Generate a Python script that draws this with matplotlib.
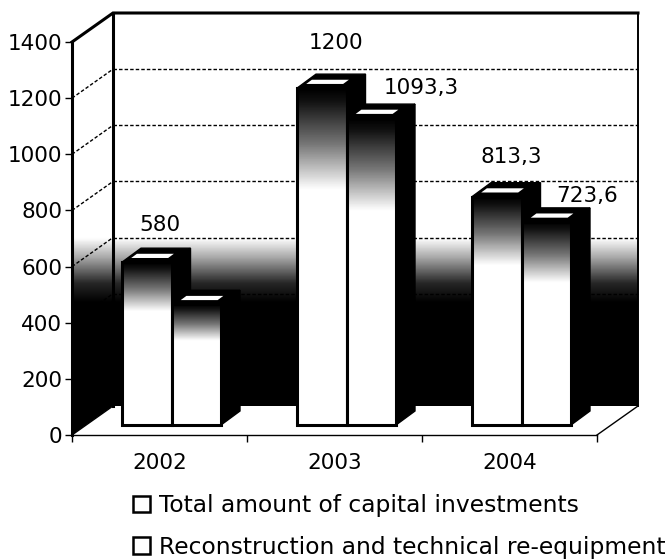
import numpy as np
import matplotlib
matplotlib.use('Agg')
import matplotlib.pyplot as plt
from matplotlib.colors import LinearSegmentedColormap
from matplotlib.patches import Polygon, Rectangle

years = ['2002', '2003', '2004']
total_invest = [580, 1200, 813.3]
reconstruction = [430, 1093.3, 723.6]
total_labels = ['580', '1200', '813,3']
recon_labels = ['', '1093,3', '723,6']
series_names = ['Total amount of capital investments',
                'Reconstruction and technical re-equipment']
y_ticks = [0, 200, 400, 600, 800, 1000, 1200, 1400]

W, H = 671, 560
FS = 15.5

plt.rcParams['font.family'] = ['DejaVu Sans']
fig = plt.figure(figsize=(W / 100, H / 100), dpi=100)
ax = fig.add_axes([72 / W, (H - 435) / H, 525 / W, 393 / H])
ax.set_xlim(-0.5, 2.5)
ax.set_ylim(0, 1400)

# pixel sizes -> data units
px_x = 3 / 525
px_y = 1400 / 393
wall_dx, wall_dy = 41 * px_x, 29 * px_y
base_dx, base_dy = 12 * px_x, 10 * px_y
depth_dx, depth_dy = 19 * px_x, 14 * px_y
bar_w = 49.5 * px_x

wall_cmap = LinearSegmentedColormap.from_list('wall', [(0, 'black'), (0.3, '#262626'), (0.7, '#a8a8a8'), (1, 'white')])
bar_cmap = LinearSegmentedColormap.from_list('bar', [(0, 'black'), (0.12, '#111111'), (0.55, '#777777'), (1, 'white')])

# walls
x0, x1 = -0.5, 2.5
wall_pts = [(x0, 0), (x0, 1400), (x0 + wall_dx, 1400 + wall_dy), (x1 + wall_dx, 1400 + wall_dy),
            (x1 + wall_dx, wall_dy), (x0 + wall_dx, wall_dy)]
wall_clip = Polygon(wall_pts, transform=ax.transData, facecolor='none', edgecolor='none')
ax.add_patch(wall_clip)
grad = np.linspace(0, 1, 300).reshape(-1, 1)
grad = np.clip((grad - 470 / 1500) / ((700 - 470) / 1500), 0, 1)
img = ax.imshow(grad, cmap=wall_cmap, vmin=0, vmax=1, origin='lower', aspect='auto',
                extent=(x0, x1 + wall_dx, 0, 1500), zorder=1)
img.set_clip_box(fig.bbox)
img.set_clip_path(wall_clip)

# floor
ax.add_patch(Polygon([(x0, 0), (x1, 0), (x1 + wall_dx, wall_dy), (x0 + wall_dx, wall_dy)],
                     facecolor='white', edgecolor='none', zorder=2, clip_on=False))

# gridlines on back and side wall
for v in y_ticks[1:-1]:
    ax.plot([x0 + wall_dx, x1 + wall_dx], [v + wall_dy, v + wall_dy], color='black', lw=1,
            ls=(0, (2.5, 1.5)), zorder=2, clip_on=False)
    ax.plot([x0, x0 + wall_dx], [v, v + wall_dy], color='black', lw=1,
            ls=(0, (2.5, 1.5)), zorder=2, clip_on=False)

# wall outlines
ax.plot([x0, x0 + wall_dx, x1 + wall_dx], [1400, 1400 + wall_dy, 1400 + wall_dy],
        color='black', lw=2.2, zorder=3, clip_on=False, solid_joinstyle='miter')
ax.plot([x1 + wall_dx, x1 + wall_dx], [wall_dy, 1400 + wall_dy], color='black', lw=1.4, zorder=3, clip_on=False)
ax.plot([x0 + wall_dx, x0 + wall_dx], [wall_dy, 1400 + wall_dy], color='black', lw=2.2, zorder=3, clip_on=False)
ax.plot([x1, x1 + wall_dx], [0, wall_dy], color='black', lw=1, zorder=3, clip_on=False)
ax.plot([x0, x0 + wall_dx], [0, wall_dy], color='black', lw=1, zorder=3, clip_on=False)

# bars
z = 4
for s, vals in enumerate([total_invest, reconstruction]):
    for i, v in enumerate(vals):
        left = i + base_dx - bar_w + s * bar_w
        right = left + bar_w
        top = v + base_dy
        ax.add_patch(Polygon([(right, base_dy), (right, top), (right + depth_dx, top + depth_dy),
                              (right + depth_dx, base_dy + depth_dy)],
                             facecolor='black', edgecolor='black', zorder=z, clip_on=False))
        ax.add_patch(Polygon([(left, top), (right, top), (right + depth_dx, top + depth_dy),
                              (left + depth_dx, top + depth_dy)],
                             facecolor='black', edgecolor='black', zorder=z, clip_on=False))
        ax.add_patch(Polygon([(left + 0.3 * depth_dx + 0.02, top + 0.3 * depth_dy),
                              (right + 0.1 * depth_dx - 0.03, top + 0.3 * depth_dy),
                              (right + 0.4 * depth_dx - 0.03, top + 0.6 * depth_dy),
                              (left + 0.6 * depth_dx + 0.02, top + 0.6 * depth_dy)],
                             facecolor='white', edgecolor='none', zorder=z, clip_on=False))
        bar = ax.bar(i + base_dx + (s - 0.5) * bar_w, v, bar_w, bottom=base_dy, facecolor='none',
                     edgecolor='black', linewidth=2.2, zorder=z + 1, clip_on=False)[0]
        g = np.clip(np.linspace(0, 1, 200).reshape(-1, 1) / 0.3, 0, 1)
        ax.imshow(g, cmap=bar_cmap, vmin=0, vmax=1, origin='upper', aspect='auto',
                  extent=(left, right, base_dy, top), zorder=z, clip_on=False)
        z += 2

ax.set_xlim(-0.5, 2.5)
ax.set_ylim(0, 1400)

# value labels, offset in pixels from the bar top
label_offsets = {(0, 0): (13, 37), (0, 1): (0, 0), (1, 0): (14, 45), (1, 1): (50, 30),
                 (2, 0): (15, 40), (2, 1): (41, 26)}
for s, (vals, labs) in enumerate(zip([total_invest, reconstruction], [total_labels, recon_labels])):
    for i, v in enumerate(vals):
        if not labs[i]:
            continue
        ax.annotate(labs[i], (i + base_dx + (s - 0.5) * bar_w, v + base_dy),
                    xytext=label_offsets[(i, s)], textcoords='offset pixels',
                    ha='center', va='center', fontsize=FS, color='black', zorder=50,
                    annotation_clip=False)

# axes
for sp in ax.spines.values():
    sp.set_visible(False)
ax.spines['left'].set_visible(True)
ax.spines['left'].set_linewidth(2.2)
ax.spines['left'].set_zorder(6)
ax.spines['bottom'].set_visible(True)
ax.spines['bottom'].set_linewidth(1)
ax.spines['bottom'].set_zorder(6)
ax.set_yticks(y_ticks)
ax.set_yticklabels([str(v) for v in y_ticks], fontsize=FS)
ax.set_xticks([-0.5, 0.5, 1.5, 2.5])
ax.set_xticklabels([])
ax.set_xticks([0, 1, 2], labels=years, minor=True, fontsize=FS)
ax.tick_params(axis='x', which='minor', length=0, pad=13)
ax.tick_params(axis='x', which='major', length=5, width=1)
ax.tick_params(axis='y', length=5, width=1, pad=2)

# legend
handles = [Rectangle((0, 0), 1, 1, facecolor='white', edgecolor='black', linewidth=1.8) for _ in series_names]
fig.legend(handles, series_names, loc='upper left', bbox_to_anchor=(133 / W, 1 - 494 / H), frameon=False,
           fontsize=16.8, handlelength=0.72, handleheight=0.72, handletextpad=0.4,
           labelspacing=0.8, borderpad=0, borderaxespad=0)

fig.savefig('out.png', dpi=100)
